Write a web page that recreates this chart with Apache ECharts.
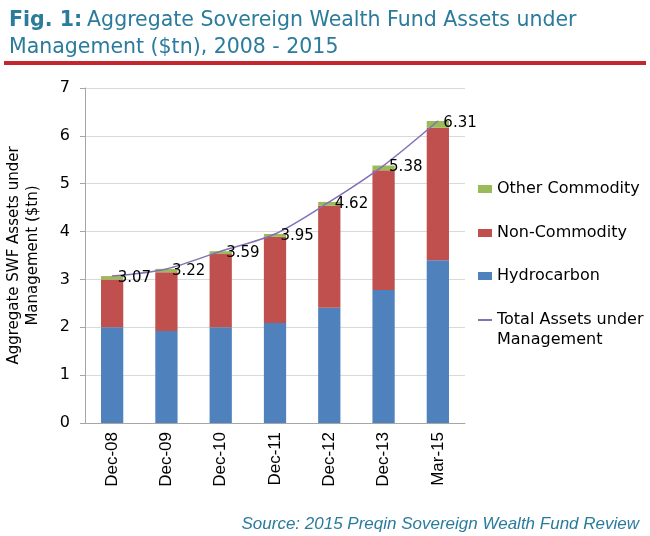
<!DOCTYPE html>
<html>
<head>
<meta charset="utf-8">
<title>SWF Assets</title>
<script src="https://cdn.jsdelivr.net/npm/echarts@6/dist/echarts.min.js"></script>
<style>
  html, body { margin: 0; padding: 0; background: #fff; }
  #main { width: 650px; height: 536px; }
</style>
</head>
<body>
<div id="main"></div>
<script>
// data ($tn)
var periods = ['Dec-08', 'Dec-09', 'Dec-10', 'Dec-11', 'Dec-12', 'Dec-13', 'Mar-15'];
var hydrocarbon = [2.00, 1.92, 2.00, 2.09, 2.41, 2.78, 3.40];
var nonCommodity = [1.00, 1.23, 1.53, 1.80, 2.13, 2.50, 2.77];
var otherCommodity = [0.07, 0.07, 0.06, 0.06, 0.08, 0.10, 0.14];
var totalAssets = [3.07, 3.22, 3.59, 3.95, 4.62, 5.38, 6.31];

var geo = 'DejaVu Sans';
var arial = 'Liberation Sans';
var teal = '#2A7B9C';
var purple = '#8470B5';

var chart = echarts.init(document.getElementById('main'));

function legendAt(name, top, extra) {
    var l = {
        data: [{ name: name, icon: 'rect' }],
        orient: 'vertical',
        left: 478,
        top: top,
        padding: 0,
        itemWidth: 14,
        itemHeight: 8,
        itemGap: 0,
        selectedMode: false,
        textStyle: { fontFamily: geo, fontSize: 16, color: '#000', lineHeight: 20 }
    };
    if (extra) echarts.util.merge(l, extra, true);
    return l;
}

chart.setOption({
    animation: false,
    title: [{
        left: 4,
        top: 2,
        text: '{b|Fig. 1:} {n|Aggregate Sovereign Wealth Fund Assets under}\n{n|Management ($tn), 2008 - 2015}',
        textStyle: {
            fontWeight: 'normal',
            rich: {
                b: { fontFamily: geo, fontSize: 20.5, fontWeight: 'bold', color: teal, lineHeight: 27 },
                n: { fontFamily: geo, fontSize: 20.5, fontWeight: 'normal', color: teal, lineHeight: 27 }
            }
        }
    }, {
        right: 6,
        top: 511,
        text: 'Source: 2015 Preqin Sovereign Wealth Fund Review',
        textStyle: { fontFamily: arial, fontSize: 17, fontStyle: 'italic', fontWeight: 'normal', color: teal }
    }],
    graphic: [{
        type: 'rect',
        shape: { x: 4, y: 61, width: 642, height: 4 },
        style: { fill: '#C1272D' }
    }],
    legend: [
        legendAt('Other Commodity', 179),
        legendAt('Non-Commodity', 223),
        legendAt('Hydrocarbon', 266),
        legendAt('Total Assets under Management', 290, {
            itemHeight: 2,
            formatter: function () { return '\nTotal Assets under\nManagement'; }
        })
    ],
    grid: { left: 85, right: 185, top: 88, bottom: 113, outerBoundsMode: 'none' },
    xAxis: {
        type: 'category',
        data: periods,
        axisLine: { lineStyle: { color: '#A6A6A6' } },
        axisTick: { length: 5, lineStyle: { color: '#A6A6A6' } },
        axisLabel: { rotate: 90, margin: 9, fontFamily: arial, fontSize: 17, color: '#000' }
    },
    yAxis: {
        type: 'value',
        min: 0,
        max: 7,
        interval: 1,
        name: 'Aggregate SWF Assets under\nManagement ($tn)',
        nameLocation: 'middle',
        nameGap: 42,
        nameTextStyle: { fontFamily: geo, fontSize: 15, color: '#000', lineHeight: 19 },
        axisLine: { show: true, lineStyle: { color: '#A6A6A6' } },
        axisTick: { show: true, length: 5, lineStyle: { color: '#A6A6A6' } },
        axisLabel: { margin: 15, fontFamily: geo, fontSize: 16, color: '#000' },
        splitLine: { lineStyle: { color: '#D9D9D9' } }
    },
    series: [{
        name: 'Hydrocarbon',
        type: 'bar',
        stack: 'swf',
        barWidth: '41%',
        itemStyle: { color: '#4F81BD' },
        data: hydrocarbon
    }, {
        name: 'Non-Commodity',
        type: 'bar',
        stack: 'swf',
        itemStyle: { color: '#C0504D' },
        data: nonCommodity
    }, {
        name: 'Other Commodity',
        type: 'bar',
        stack: 'swf',
        itemStyle: { color: '#9BBB59' },
        data: otherCommodity
    }, {
        name: 'Total Assets under Management',
        type: 'line',
        smooth: 0.3,
        symbol: 'circle',
        symbolSize: 1,
        lineStyle: { color: purple, width: 1.5 },
        itemStyle: { color: purple },
        label: {
            show: true,
            position: 'right',
            distance: 5,
            offset: [0, 2],
            fontFamily: geo,
            fontSize: 15,
            color: '#000',
            formatter: function (p) { return p.value.toFixed(2); }
        },
        data: totalAssets
    }]
});
</script>
</body>
</html>
